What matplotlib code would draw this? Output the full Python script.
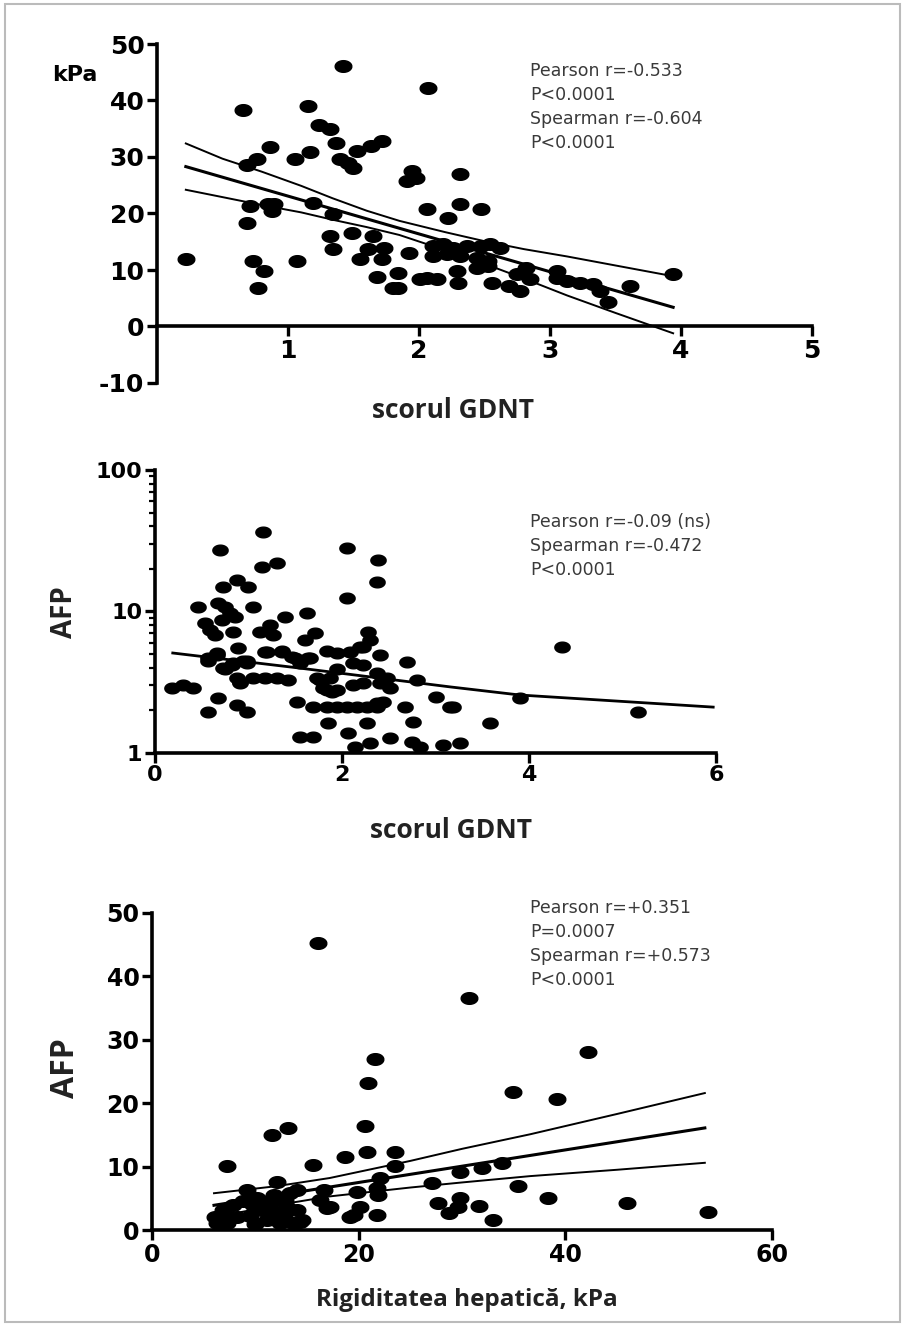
import matplotlib as mpl
mpl.use('Agg')
import matplotlib.pyplot as plt
import numpy as np
from matplotlib.path import Path
from matplotlib.patches import Rectangle

plt.rcParams['axes.unicode_minus'] = False

# panel 1: kPa vs scorul GDNT
gdnt1 = [0.22, 0.66, 0.69, 0.76, 0.86, 0.71, 0.69, 0.85, 0.89, 0.88, 0.73, 0.82, 0.77,
         1.05, 1.07, 1.15, 1.17, 1.19, 1.24, 1.32, 1.37, 1.42, 1.40, 1.46, 1.50, 1.53,
         1.63, 1.72, 1.34, 1.32, 1.34, 1.49, 1.65, 1.55, 1.61, 1.73, 1.72, 1.68, 1.84,
         1.84, 1.92, 1.91, 1.95, 1.98, 2.07, 2.06, 2.22, 2.31, 2.31, 2.47,
         2.11, 2.18, 2.26, 2.37, 2.47, 2.54, 2.62, 2.11, 2.21, 2.31, 2.44, 2.53, 2.06,
         2.14, 2.30, 2.29, 2.44, 2.53, 2.01, 2.56, 2.69, 2.77, 2.75, 2.82, 2.85,
         3.05, 3.13, 3.23, 3.33, 3.38, 3.44, 3.61, 3.94, 3.05, 1.80]
kpa1 = [12.0, 38.4, 28.5, 29.7, 31.7, 21.4, 18.3, 21.7, 21.7, 20.5, 11.6, 9.8, 6.9,
        29.7, 11.6, 39.1, 30.8, 21.9, 35.6, 34.9, 32.4, 46.1, 29.7, 29.0, 28.1, 31.1,
        32.0, 32.9, 19.9, 16.0, 13.7, 16.5, 16.0, 11.9, 13.7, 13.9, 11.9, 8.7, 9.4,
        6.8, 13.0, 25.8, 27.6, 26.3, 42.2, 20.8, 19.2, 21.7, 27.0, 20.8,
        14.2, 14.6, 13.9, 14.2, 14.2, 14.6, 13.9, 12.5, 12.8, 12.5, 12.1, 11.6, 8.5,
        8.4, 7.7, 9.8, 10.3, 10.7, 8.4, 7.7, 7.1, 6.2, 9.3, 10.3, 8.4,
        9.8, 8.0, 7.7, 7.5, 6.2, 4.4, 7.1, 9.3, 8.6, 6.9]
fit1_x = [0.22, 3.94]
fit1_mid = [28.3, 3.4]
band1_x = [0.22, 0.5, 0.8, 1.1, 1.34, 1.6, 1.85, 2.2, 2.5, 2.8, 3.13, 3.5, 3.94]
band1_hi = [32.4, 29.7, 27.4, 24.9, 22.7, 20.5, 18.7, 16.7, 15.1, 13.7, 12.4, 10.8, 8.9]
band1_lo = [24.2, 22.9, 21.5, 20.2, 18.9, 17.6, 16.2, 13.5, 11.1, 8.5, 5.5, 2.4, -1.2]

# panel 2: AFP (log) vs scorul GDNT
gdnt2 = [0.18, 0.30, 0.41, 0.46, 0.53, 0.59, 0.64, 0.57, 0.57, 0.67, 0.70, 0.67, 0.75,
         0.80, 0.86, 0.72, 0.83, 0.73, 0.88, 0.99, 1.05, 0.66, 0.75, 0.83, 0.88, 0.91,
         0.94, 0.89, 0.98, 0.88, 0.98, 1.05, 1.18, 1.30, 1.42, 1.16, 1.14, 1.30, 1.12,
         1.23, 1.26, 1.20, 1.39, 1.36, 1.47, 1.55, 1.66, 1.52, 1.55, 1.69, 1.63, 1.60,
         1.71, 1.84, 1.95, 1.76, 1.87, 1.95, 1.84, 1.95, 1.69, 1.84, 1.95, 2.05, 2.16,
         1.85, 2.05, 2.05, 2.09, 2.19, 2.12, 2.22, 2.12, 2.22, 2.06, 2.14, 2.27, 2.37,
         2.27, 2.30, 2.28, 2.30, 2.22, 2.38, 2.37, 2.41, 2.37, 2.48, 2.51, 2.41, 2.44,
         2.37, 2.51, 2.70, 2.67, 2.76, 2.75, 2.83, 2.80, 3.01, 3.08, 3.16, 3.19, 3.58,
         3.26, 3.90, 4.35, 5.17, 0.57, 0.66, 0.73, 0.82, 1.18, 1.36, 1.50, 1.64, 1.73,
         1.80, 1.89, 0.91, 0.98]
afp2 = [2.88, 3.02, 2.88, 10.7, 8.3, 7.4, 6.8, 4.5, 1.95, 2.45, 27.2, 11.5, 10.7,
        9.8, 9.1, 8.7, 7.2, 14.9, 16.7, 14.9, 10.7, 5.1, 3.9, 4.3, 3.4, 3.1,
        4.5, 5.5, 4.3, 2.2, 1.95, 3.4, 3.4, 3.4, 3.3, 36.5, 20.6, 22.0, 7.2,
        8.0, 6.8, 5.2, 9.1, 5.3, 4.8, 4.3, 4.7, 2.3, 1.3, 1.3, 9.8, 6.3,
        7.1, 5.3, 5.1, 3.3, 3.4, 3.9, 2.8, 2.8, 2.1, 2.1, 2.1, 2.1, 2.1,
        1.63, 28.1, 12.4, 5.2, 5.6, 4.3, 4.2, 3.0, 3.1, 1.38, 1.10, 2.1, 2.1,
        1.63, 1.18, 7.2, 6.3, 5.6, 23.1, 16.2, 4.9, 3.7, 3.4, 2.9, 3.1, 2.3,
        2.25, 1.28, 4.4, 2.1, 1.66, 1.2, 1.1, 3.3, 2.5, 1.14, 2.1, 2.1, 1.63,
        1.18, 2.45, 5.6, 1.95, 4.7, 4.9, 4.0, 4.2, 5.2, 5.2, 4.7, 4.7, 3.4,
        2.9, 2.7, 3.2, 4.5]
fit2_x = [0.19, 1.55, 3.16, 3.90, 5.97]
fit2_y = [5.09, 3.98, 2.93, 2.57, 2.11]

# panel 3: AFP vs Rigiditatea hepatica
kpa3 = [16.1, 30.7, 21.6, 20.9, 20.6, 20.8, 23.5, 23.5, 11.6, 13.2, 7.3, 15.6, 18.7,
        12.1, 9.2, 16.6, 16.3, 16.9, 19.8, 20.1, 19.5, 21.8, 22.1, 21.8, 21.9, 27.1,
        27.7, 28.7, 29.8, 29.6, 29.8, 31.9, 33.9, 31.6, 33.0, 34.9, 35.4, 42.2, 39.2,
        38.3, 46.0, 53.8, 17.2,
        6.1, 6.9, 7.8, 8.2, 7.3, 6.3, 10.2, 10.6, 11.1, 12.1, 12.4, 13.4, 14.0, 13.1,
        14.0, 14.5, 13.6, 11.4, 19.2, 9.5, 8.8, 10.0, 11.8, 12.8, 7.0, 9.8, 12.9, 14.3]
afp3 = [45.3, 36.6, 27.0, 23.2, 16.4, 12.3, 12.3, 10.1, 15.0, 16.1, 10.1, 10.3, 11.5,
        7.6, 6.3, 6.3, 4.7, 3.5, 6.0, 3.6, 2.4, 2.4, 8.2, 6.6, 5.5, 7.4,
        4.3, 2.7, 9.1, 3.6, 5.0, 9.8, 10.6, 3.8, 1.6, 21.8, 6.9, 28.1, 20.7,
        5.0, 4.3, 2.8, 3.6,
        2.1, 3.2, 3.9, 2.1, 1.1, 1.1, 5.0, 3.2, 1.6, 2.8, 1.1, 5.8, 6.3, 3.6,
        3.2, 1.6, 1.1, 4.3, 2.1, 2.2, 4.6, 1.0, 5.5, 2.4, 2.6, 4.0, 4.8, 1.2]
fit3_x = [6.0, 53.5]
fit3_mid = [3.9, 16.1]
band3_x = [6.0, 12.0, 17.2, 25.0, 30.0, 36.6, 45.0, 53.5]
band3_hi = [5.8, 6.9, 8.2, 10.9, 12.8, 15.1, 18.3, 21.6]
band3_lo = [2.0, 3.9, 5.3, 6.7, 7.5, 8.5, 9.5, 10.6]

W, H = 904, 1327
fig = plt.figure(figsize=(W / 100, H / 100), dpi=100)

# flat ellipse marker
t = np.linspace(0, 2 * np.pi, 40)
dot = Path(np.column_stack([np.cos(t), 0.7 * np.sin(t)]))


def px_axes(x0, x1, ytop, ybot):
    return fig.add_axes([x0 / W, 1 - ybot / H, (x1 - x0) / W, (ybot - ytop) / H])


def style(ax, size):
    tickfont = mpl.font_manager.FontProperties(family='DejaVu Sans', weight='bold', size=size)
    for s in ['top', 'right']:
        ax.spines[s].set_visible(False)
    for s in ['left', 'bottom']:
        ax.spines[s].set_linewidth(2.6)
    ax.tick_params(which='major', length=7, width=2.4, direction='out', pad=2)
    ax.tick_params(which='minor', length=4, width=1.6, direction='out')
    for lab in ax.get_xticklabels() + ax.get_yticklabels():
        lab.set_fontproperties(tickfont)


def note(x, y, lines):
    for i, s in enumerate(lines):
        fig.text(x / W, 1 - (y + 24 * i) / H, s, family='DejaVu Sans', fontsize=12.5,
                 color='#3a3a3a', va='center', ha='left')


def label(x, y, s, size, rot=0):
    fig.text(x / W, 1 - y / H, s, family='Open Sans', weight='bold', fontsize=size,
             color='#222222', ha='center', va='center', rotation=rot)


# panel 1
ax1 = px_axes(157, 812, 44, 383)
ax1.set_xlim(0, 5)
ax1.set_ylim(-10, 50)
ax1.spines['bottom'].set_position(('data', 0))
ax1.set_xticks([1, 2, 3, 4, 5])
ax1.set_yticks([-10, 0, 10, 20, 30, 40, 50])
ax1.plot(band1_x, band1_hi, color='k', lw=1.4)
ax1.plot(band1_x, band1_lo, color='k', lw=1.4, clip_on=False)
ax1.plot(fit1_x, fit1_mid, color='k', lw=2.2)
ax1.plot(gdnt1, kpa1, ls='none', marker=dot, ms=12, color='k', clip_on=False)
style(ax1, 18)
fig.text(75 / W, 1 - 75 / H, 'kPa', family='DejaVu Sans', weight='bold', fontsize=16,
         ha='center', va='center')
note(530, 71, ['Pearson r=-0.533', 'P<0.0001', 'Spearman r=-0.604', 'P<0.0001'])
label(453, 410, 'scorul GDNT', 19)

# panel 2
ax2 = px_axes(155, 716, 470, 753)
ax2.set_yscale('log')
ax2.set_xlim(0, 6)
ax2.set_ylim(1, 100)
ax2.set_xticks([0, 2, 4, 6])
ax2.set_yticks([1, 10, 100], labels=['1', '10', '100'])
ax2.yaxis.set_minor_locator(mpl.ticker.LogLocator(subs=np.arange(2, 10)))
ax2.yaxis.set_minor_formatter(mpl.ticker.NullFormatter())
ax2.plot(fit2_x, fit2_y, color='k', lw=2.0)
ax2.plot(gdnt2, afp2, ls='none', marker=dot, ms=11, color='k', clip_on=False)
style(ax2, 16)
note(530, 522, ['Pearson r=-0.09 (ns)', 'Spearman r=-0.472', 'P<0.0001'])
label(451, 830, 'scorul GDNT', 19)
label(65, 612, 'AFP', 20, rot=90)

# panel 3
ax3 = px_axes(152, 772, 913, 1230)
ax3.set_xlim(0, 60)
ax3.set_ylim(0, 50)
ax3.set_xticks([0, 20, 40, 60])
ax3.set_yticks([0, 10, 20, 30, 40, 50])
ax3.plot(band3_x, band3_hi, color='k', lw=1.4)
ax3.plot(band3_x, band3_lo, color='k', lw=1.4)
ax3.plot(fit3_x, fit3_mid, color='k', lw=2.2)
ax3.plot(kpa3, afp3, ls='none', marker=dot, ms=12, color='k', clip_on=False)
style(ax3, 17)
note(530, 908, ['Pearson r=+0.351', 'P=0.0007', 'Spearman r=+0.573', 'P<0.0001'])
label(467, 1300, 'Rigiditatea hepatică, kPa', 17.5)
label(66, 1068, 'AFP', 23, rot=90)

fig.patches.append(Rectangle((0.006, 0.004), 0.99, 0.993, transform=fig.transFigure,
                             fill=False, edgecolor='#bbbbbb', lw=1.5))

plt.savefig('out.png', dpi=100)
